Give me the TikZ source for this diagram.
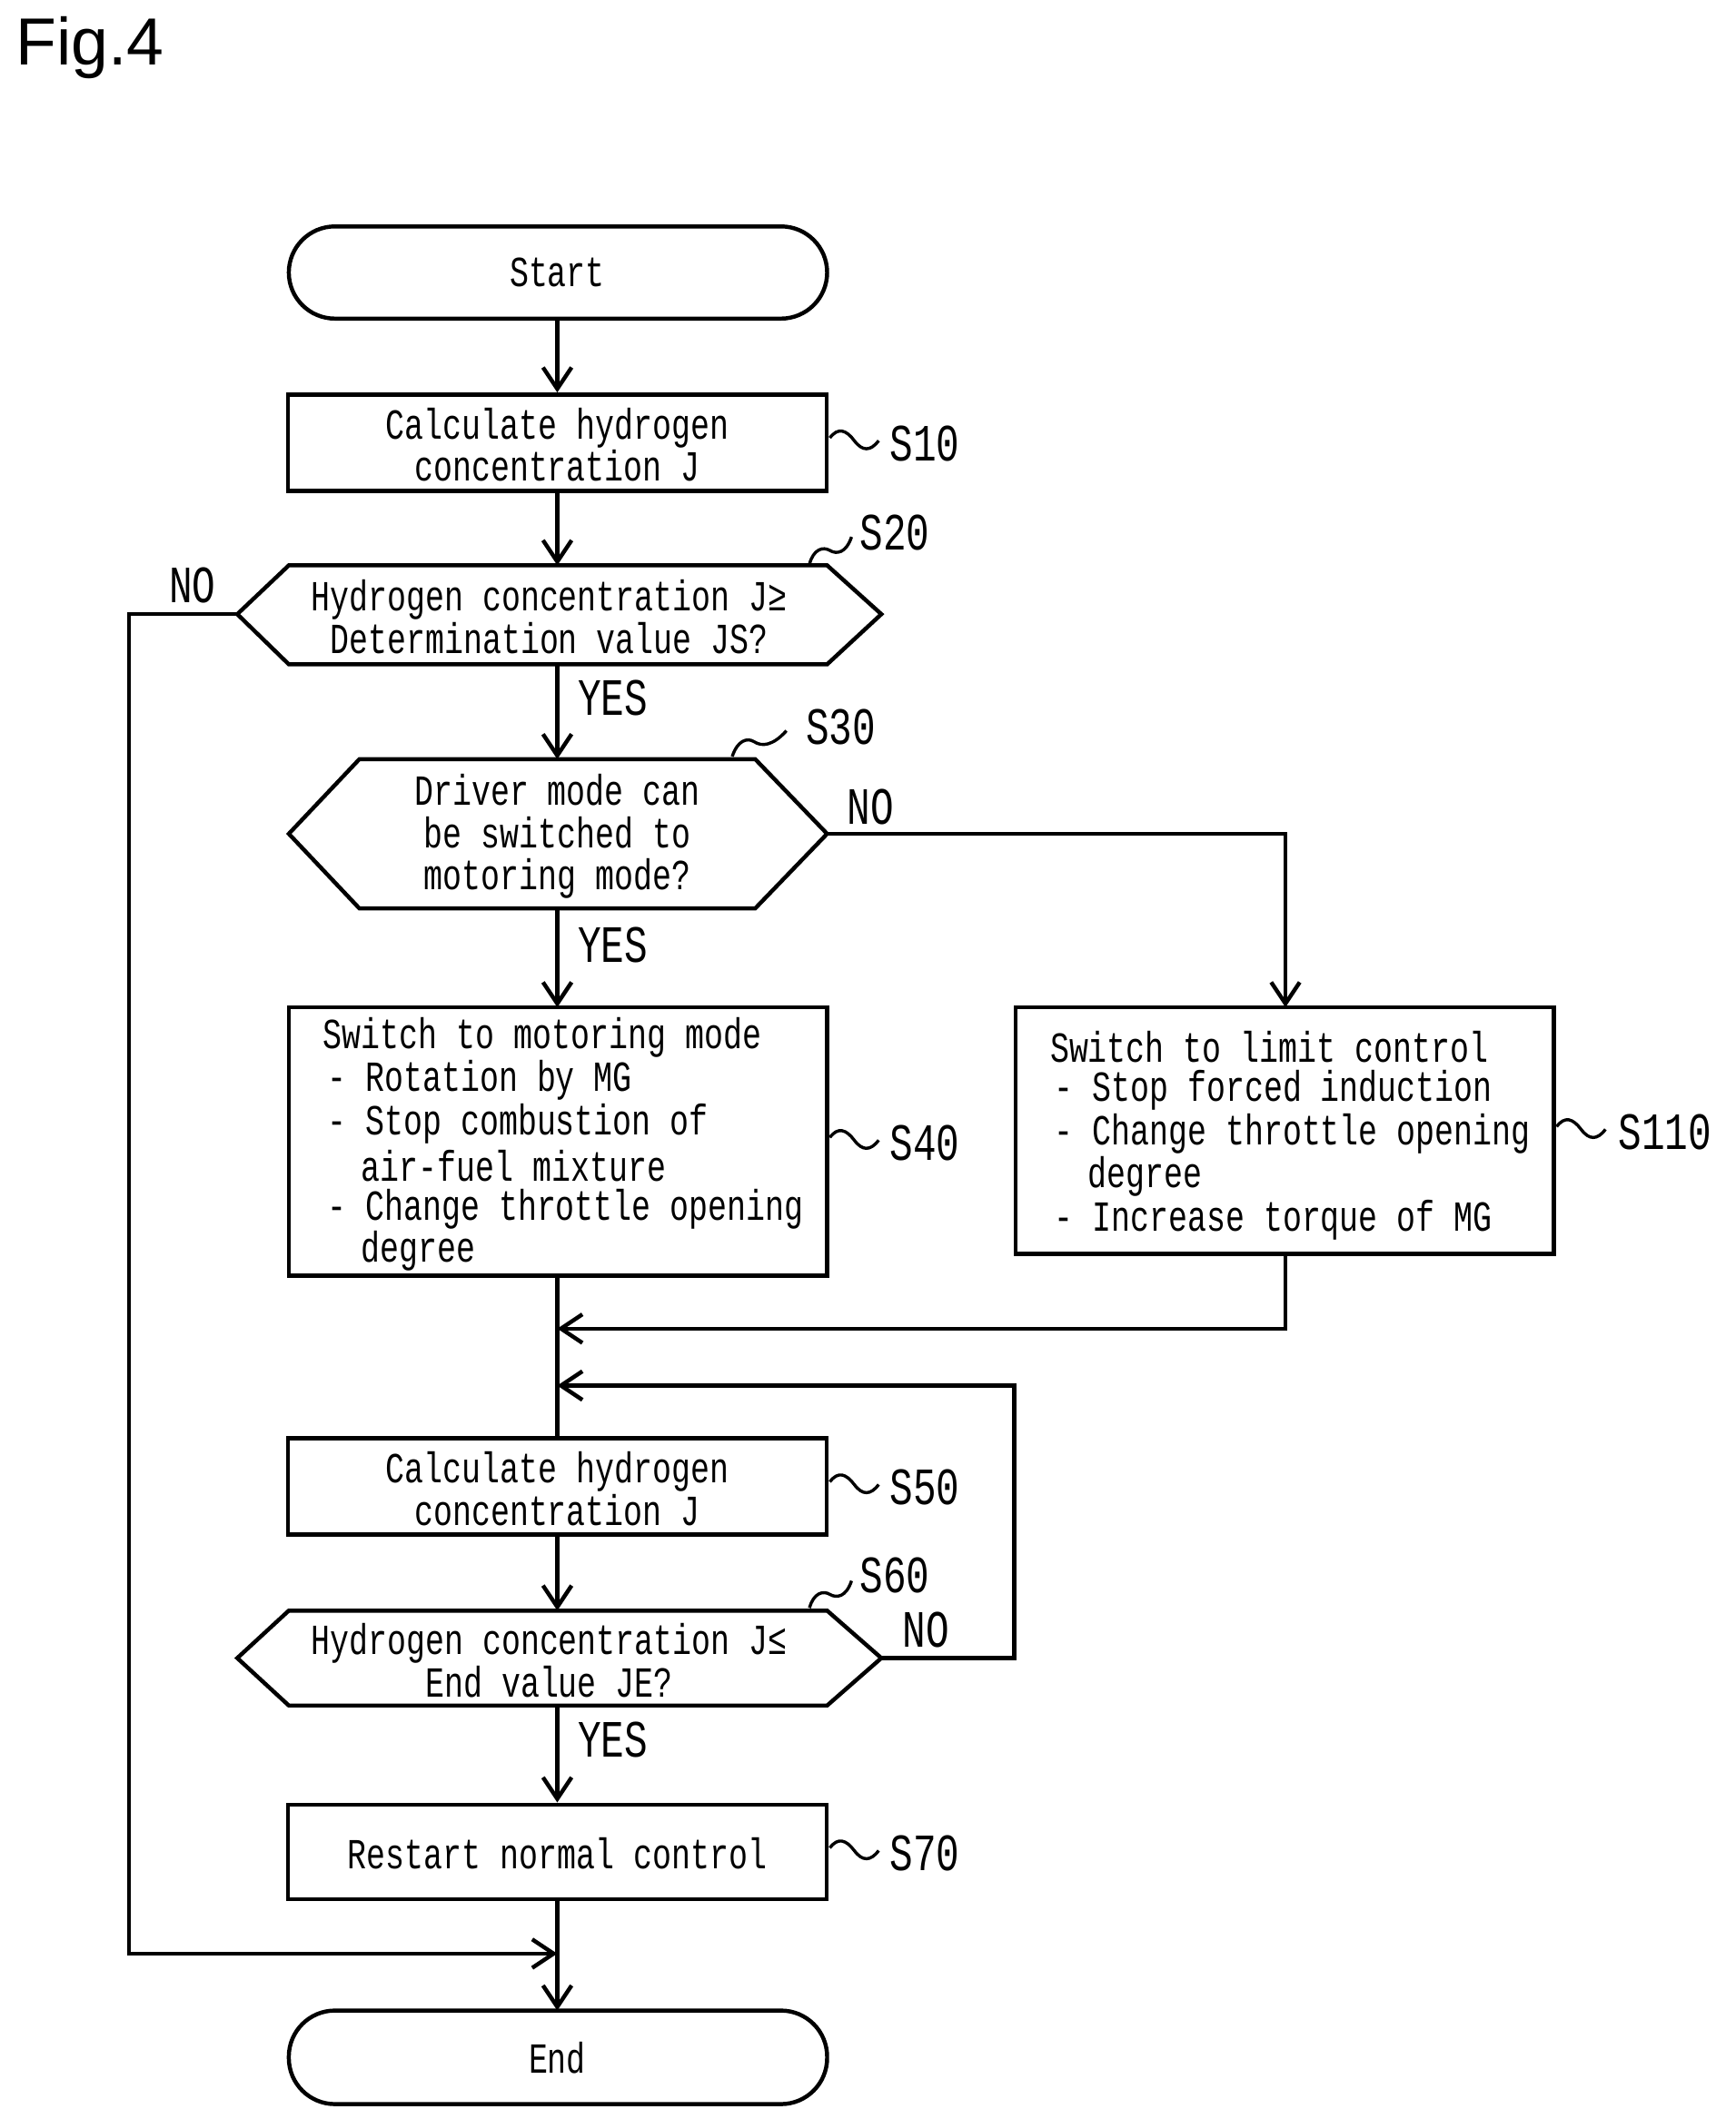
\documentclass[tikz,border=0pt]{standalone}
\usepackage{fontspec}
\setmainfont{Liberation Sans}
\newfontfamily\mono[FakeStretch=0.74]{Liberation Mono}
\usetikzlibrary{arrows.meta}
\begin{document}
\begin{tikzpicture}[x=0.02cm,y=-0.02cm,line width=1.7pt,
  box/.style={draw,minimum width=397*0.02cm,inner sep=0pt},
  t/.style={font=\mono\fontsize{18}{17.8}\selectfont,align=center,inner sep=0pt},
  lt/.style={font=\mono\fontsize{18}{17.8}\selectfont,anchor=west,inner sep=0pt},
  lab/.style={font=\mono\fontsize{22}{22}\selectfont,inner sep=0pt},
  arr/.style={-{Straight Barb[length=9pt,width=12pt,line width=1.7pt]}}]
\useasboundingbox (0,0) rectangle (1280,1563);
\node[font=\fontsize{28}{28}\selectfont,anchor=west,inner sep=0pt] (fig) at (10,35) {Fig.4};
% start
\draw[rounded corners=34*0.02cm] (213,167) rectangle (610,235);
\node[t] (start) at (411,201) {Start};
% S10
\node[box,minimum height=71*0.02cm] (s10) at (411,326.5) {};
\node[t] (s10t) at (411,328) {Calculate hydrogen\\concentration J};
\node[lab] (l10) at (682,327) {S10};
% S20
\draw (175,453) -- (213,417) -- (610,417) -- (650,453) -- (610,490) -- (213,490) -- cycle;
\coordinate (s20l) at (175,453); \coordinate (s20t) at (411,417); \coordinate (s20b) at (411,490);
\node[t] (s20x) at (405,455) {Hydrogen concentration J≥\\Determination value JS?};
\node[lab] (l20) at (660,393) {S20};
% S30
\draw (213,615) -- (265,560) -- (557,560) -- (610,615) -- (557,670) -- (265,670) -- cycle;
\coordinate (s30r) at (610,615); \coordinate (s30t) at (411,560); \coordinate (s30b) at (411,670);
\node[t] (s30x) at (411,617) {Driver mode can\\be switched to\\motoring mode?};
\node[lab] (l30) at (620,536) {S30};
% S40
\draw (213,743) rectangle (610,941);
\coordinate (s40t) at (411,743); \coordinate (s40b) at (411,941);
\node[lt] (a1) at (237,765) {Switch to motoring mode};
\node[lt] (a2) at (240,797) {- Rotation by MG};
\node[lt] (a3) at (240,829) {- Stop combustion of};
\node[lt] (a4) at (265,860) {air-fuel mixture};
\node[lt] (a5) at (240,892) {- Change throttle opening};
\node[lt] (a6) at (265,923) {degree};
\node[lab] (l40) at (682,843) {S40};
% S110
\draw (749,743) rectangle (1146,925);
\coordinate (s110t) at (948,743); \coordinate (s110b) at (948,925);
\node[lt] (b1) at (773,772) {Switch to limit control};
\node[lt] (b2) at (776,804) {- Stop forced induction};
\node[lt] (b3) at (776,836) {- Change throttle opening};
\node[lt] (b4) at (801,868) {degree};
\node[lt] (b5) at (776,900) {- Increase torque of MG};
\node[lab] (l110) at (1228,835) {S110};
% S50
\node[box,minimum height=71*0.02cm] (s50) at (411,1096.5) {};
\node[t] (s50t) at (411,1098) {Calculate hydrogen\\concentration J};
\node[lab] (l50) at (682,1097) {S50};
% S60
\draw (175,1223) -- (213,1188) -- (610,1188) -- (650,1223) -- (610,1258) -- (213,1258) -- cycle;
\coordinate (s60r) at (650,1223); \coordinate (s60t) at (411,1188); \coordinate (s60b) at (411,1258);
\node[t] (s60x) at (405,1225) {Hydrogen concentration J≤\\End value JE?};
\node[lab] (l60) at (660,1162) {S60};
% S70
\node[box,minimum height=70*0.02cm] (s70) at (411,1366) {};
\node[t] (s70t) at (411,1367) {Restart normal control};
\node[lab] (l70) at (682,1367) {S70};
% End
\draw[rounded corners=34*0.02cm] (213,1483) rectangle (610,1552);
\node[t] (endn) at (411,1518) {End};
\coordinate (endt) at (411,1483);
% tildes
\foreach \y in {327,843,1097,1367}
  \draw[line width=1.3pt] (612,\y-4) .. controls (618,\y-12) and (624,\y-10) .. (630,\y-2) .. controls (636,\y+6) and (642,\y+6) .. (648,\y-2);
\draw[line width=1.3pt] (1148,831) .. controls (1154,823) and (1160,825) .. (1166,833) .. controls (1172,841) and (1178,841) .. (1184,833);
\draw[line width=1.3pt] (597,416) .. controls (600,405) and (607,403) .. (612,406) .. controls (617,409) and (624,408) .. (628,396);
\draw[line width=1.3pt] (540,558) .. controls (544,546) and (551,544) .. (556,547) .. controls (562,551) and (570,550) .. (580,539);
\draw[line width=1.3pt] (597,1186) .. controls (600,1175) and (607,1173) .. (612,1176) .. controls (617,1179) and (624,1178) .. (628,1166);
% connectors
\draw[arr] (411,235) -- (s10.north);
\draw[arr] (s10.south) -- (s20t);
\draw[arr] (s20b) -- (s30t);
\node[lab] (y20) at (452,515) {YES};
\draw[arr] (s30b) -- (s40t);
\node[lab] (y30) at (452,697) {YES};
\draw[arr] (s30r) -- (948,615) -- (s110t);
\node[lab] (n30) at (642,595) {NO};
\coordinate (m1) at (411,980);
\coordinate (m2) at (411,1022);
\draw (s40b) -- (s50.north);
\draw[arr] (s110b) -- (948,980) -- (m1);
\draw[arr] (s60r) -- (748,1223) -- (748,1022) -- (m2);
\node[lab] (n60) at (683,1202) {NO};
\draw[arr] (s50.south) -- (s60t);
\draw[arr] (s60b) -- (s70.north);
\node[lab] (y60) at (452,1283) {YES};
\draw[arr] (s70.south) -- (endt);
\coordinate (m3) at (411,1441);
\draw[arr] (s20l) -- (95,453) -- (95,1441) -- (m3);
\node[lab] (n20) at (142,432) {NO};
\end{tikzpicture}
\end{document}
